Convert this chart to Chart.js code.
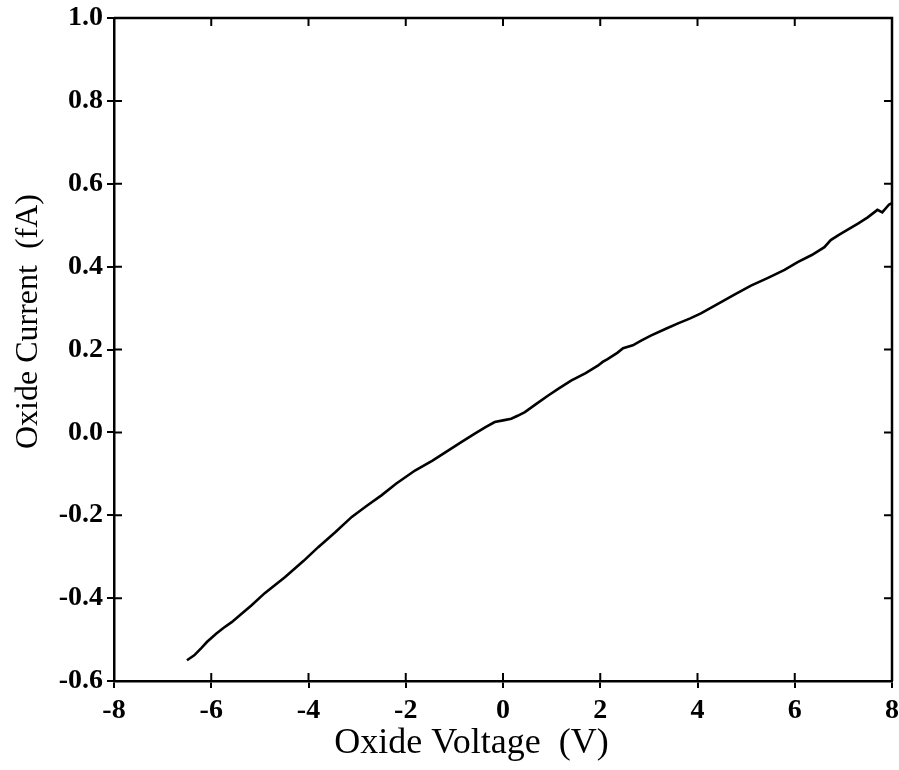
<!DOCTYPE html>
<html>
<head>
<meta charset="utf-8">
<script src="https://cdn.jsdelivr.net/npm/chart.js@4.4.1/dist/chart.umd.min.js"></script>
<style>
  html, body { margin: 0; padding: 0; background: #ffffff; }
  #wrap { width: 899px; height: 770px; }
</style>
</head>
<body>
<div id="wrap"><canvas id="c" width="899" height="770"></canvas></div>
<script>
// Oxide voltage (V) and oxide current (fA)
const voltage = [
  -6.50, -6.35, -6.20, -6.09, -5.90, -5.75, -5.58, -5.40, -5.17, -4.90,
  -4.48, -4.10, -3.80, -3.45, -3.11, -2.80, -2.50, -2.20, -1.81, -1.45,
  -1.13, -0.85, -0.58, -0.35, -0.17, 0.00, 0.17, 0.30, 0.45, 0.70,
  0.93, 1.15, 1.40, 1.70, 1.95, 2.05, 2.15, 2.35, 2.47, 2.67,
  2.85, 3.05, 3.35, 3.60, 3.85, 4.07, 4.42, 4.75, 5.10, 5.45,
  5.79, 6.06, 6.35, 6.61, 6.74, 6.90, 7.09, 7.30, 7.50, 7.70,
  7.80, 7.94, 8.05
];
const current = [
  -0.550, -0.538, -0.520, -0.506, -0.486, -0.472, -0.458, -0.440, -0.417, -0.388,
  -0.349, -0.310, -0.277, -0.241, -0.204, -0.177, -0.152, -0.124, -0.092, -0.068,
  -0.044, -0.023, -0.003, 0.013, 0.025, 0.029, 0.033, 0.040, 0.049, 0.070,
  0.089, 0.106, 0.125, 0.143, 0.161, 0.170, 0.177, 0.192, 0.203, 0.210,
  0.222, 0.234, 0.250, 0.263, 0.275, 0.287, 0.310, 0.332, 0.354, 0.373,
  0.392, 0.411, 0.428, 0.447, 0.464, 0.476, 0.489, 0.504, 0.519, 0.537,
  0.531, 0.550, 0.556
];
const xTicks = [-8, -6, -4, -2, 0, 2, 4, 6, 8];
const yTicks = [-0.6, -0.4, -0.2, 0.0, 0.2, 0.4, 0.6, 0.8, 1.0];
const xTitle = 'Oxide Voltage  (V)';
const yTitle = 'Oxide Current  (fA)';

const points = voltage.map((v, i) => ({ x: v, y: current[i] }));

const SERIF = '"Liberation Serif", "Times New Roman", Times, serif';

// Frame on top/right and tick marks pointing inside, placed with the chart's own scales
const framePlugin = {
  id: 'frame',
  afterDraw(chart) {
    const { ctx, chartArea: a, scales: { x, y } } = chart;
    ctx.save();
    ctx.strokeStyle = '#000';
    ctx.lineWidth = 2.5;
    ctx.lineCap = 'butt';
    ctx.beginPath();
    ctx.moveTo(a.left, a.top);
    ctx.lineTo(a.right, a.top);
    ctx.lineTo(a.right, a.bottom);
    ctx.stroke();
    const len = 8;
    ctx.lineWidth = 2;
    ctx.beginPath();
    x.ticks.forEach((t, i) => {
      const px = x.getPixelForTick(i);
      ctx.moveTo(px, a.bottom); ctx.lineTo(px, a.bottom - len);
      ctx.moveTo(px, a.top); ctx.lineTo(px, a.top + len);
    });
    y.ticks.forEach((t, i) => {
      const py = y.getPixelForTick(i);
      ctx.moveTo(a.left, py); ctx.lineTo(a.left + len, py);
      ctx.moveTo(a.right, py); ctx.lineTo(a.right - len, py);
    });
    ctx.stroke();
    ctx.restore();
  }
};

new Chart(document.getElementById('c'), {
  type: 'line',
  data: {
    datasets: [{
      data: points,
      borderColor: '#000',
      borderWidth: 2.6,
      pointRadius: 0,
      tension: 0,
      fill: false
    }]
  },
  options: {
    responsive: false,
    animation: false,
    events: [],
    layout: { padding: { top: 18, right: 7, left: 0, bottom: 0 } },
    plugins: { legend: { display: false }, tooltip: { enabled: false } },
    scales: {
      x: {
        type: 'linear',
        min: -8, max: 8,
        afterBuildTicks: s => { s.ticks = xTicks.map(v => ({ value: v })); },
        afterFit: s => { s.height = 89; s.paddingLeft = 0; s.paddingRight = 0; },
        ticks: {
          color: '#000',
          padding: 6,
          maxRotation: 0,
          autoSkip: false,
          font: { family: SERIF, size: 28, weight: 'bold' },
          callback: v => String(v)
        },
        grid: { drawOnChartArea: false, drawTicks: true, tickLength: 7, color: '#000', lineWidth: 2 },
        border: { display: true, color: '#000', width: 2.5 },
        title: {
          display: true,
          text: xTitle + '       ',
          color: '#000',
          font: { family: SERIF, size: 36, weight: 'normal' },
          padding: { top: 0, bottom: 5 }
        }
      },
      y: {
        type: 'linear',
        min: -0.6, max: 1.0,
        afterBuildTicks: s => { s.ticks = yTicks.map(v => ({ value: v })); },
        afterFit: s => { s.width = 114; s.paddingTop = 0; s.paddingBottom = 0; },
        ticks: {
          color: '#000',
          padding: 4,
          autoSkip: false,
          font: { family: SERIF, size: 28, weight: 'bold' },
          callback: v => Number(v).toFixed(1)
        },
        grid: { drawOnChartArea: false, drawTicks: true, tickLength: 7, color: '#000', lineWidth: 2 },
        border: { display: true, color: '#000', width: 2.5 },
        title: {
          display: true,
          text: '       ' + yTitle,
          color: '#000',
          font: { family: SERIF, size: 32, weight: 'normal' },
          padding: { top: 9, bottom: 0 }
        }
      }
    }
  },
  plugins: [framePlugin]
});
</script>
</body>
</html>
